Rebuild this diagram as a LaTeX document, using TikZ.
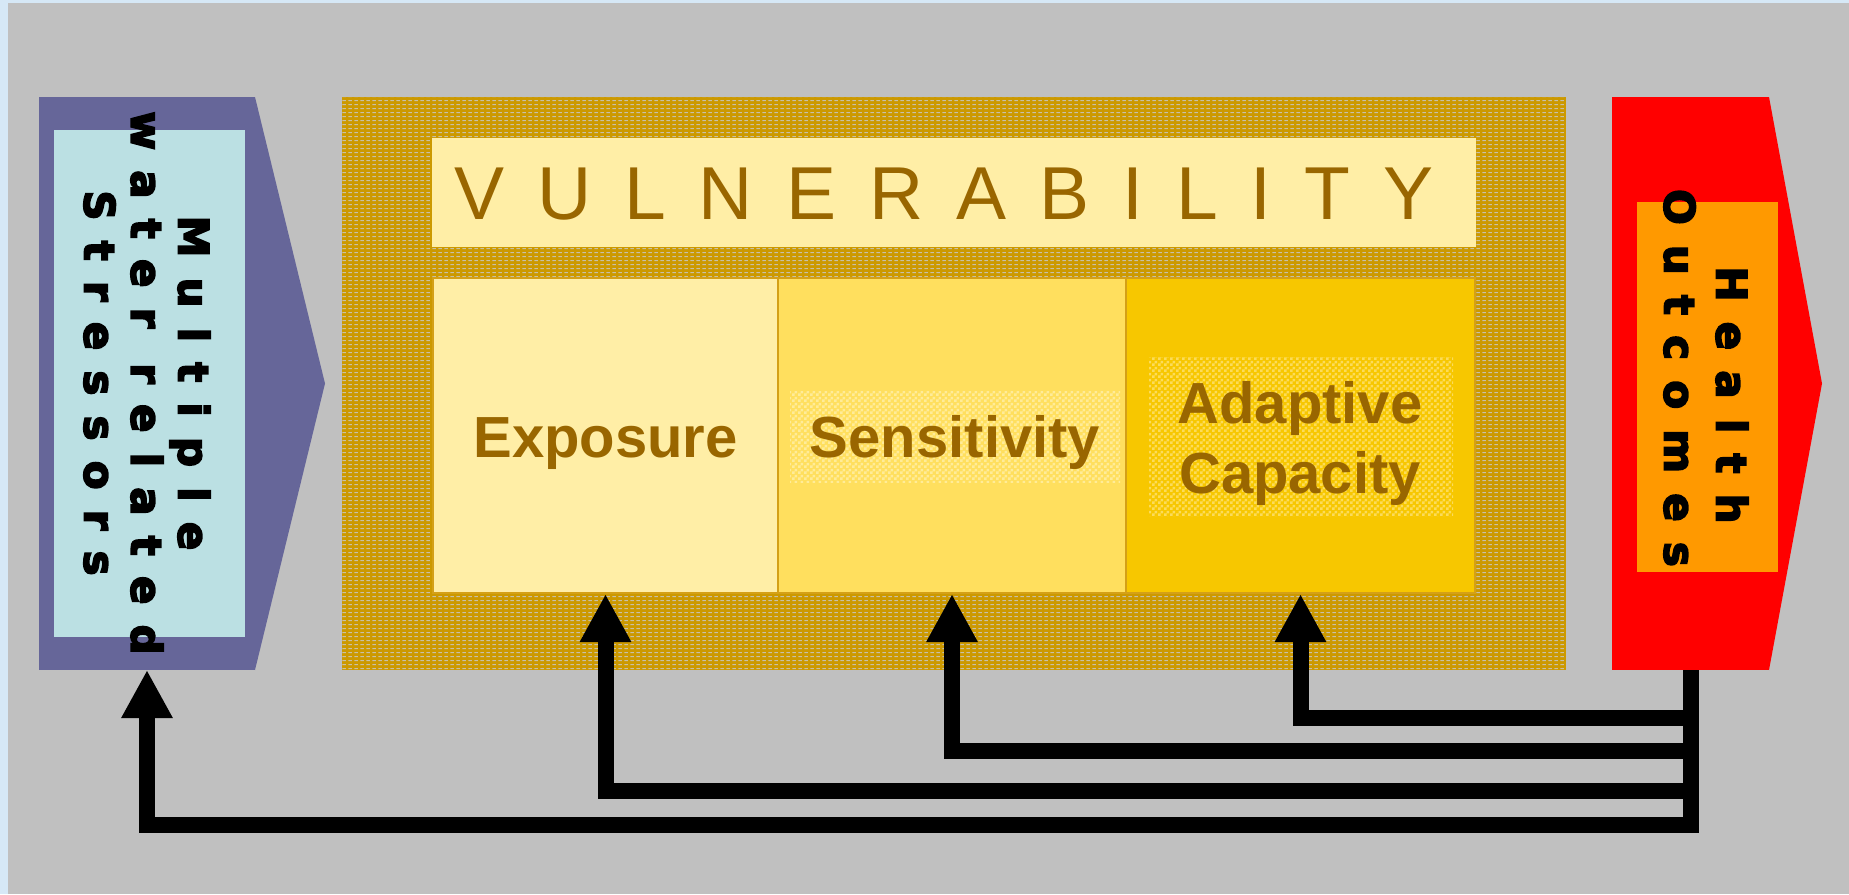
\documentclass[tikz,border=0pt]{standalone}
\usepackage{fontspec}
\setmainfont{Liberation Sans}
\newfontfamily\heavyfont[LetterSpace=48,FakeBold=4]{DejaVu Sans}
\newfontfamily\vulfont[LetterSpace=44]{Liberation Sans}
\usetikzlibrary{arrows.meta,patterns,calc}
\pgfdeclarepatternformonly{golddash}{\pgfqpoint{0pt}{0pt}}{\pgfqpoint{6pt}{4pt}}{\pgfqpoint{6pt}{4pt}}{%
  \pgfpathrectangle{\pgfqpoint{0.5pt}{1pt}}{\pgfqpoint{4pt}{1.3pt}}\pgfusepath{fill}}
\pgfdeclarepatternformonly{checker}{\pgfqpoint{0pt}{0pt}}{\pgfqpoint{6pt}{6pt}}{\pgfqpoint{6pt}{6pt}}{%
  \pgfpathrectangle{\pgfqpoint{0pt}{0pt}}{\pgfqpoint{3pt}{3pt}}%
  \pgfpathrectangle{\pgfqpoint{3pt}{3pt}}{\pgfqpoint{3pt}{3pt}}\pgfusepath{fill}}
\definecolor{bgblue}{HTML}{D6E8F6}
\definecolor{bggray}{HTML}{C0C0C0}
\definecolor{stpurple}{HTML}{666699}
\definecolor{stblue}{HTML}{BBE0E3}
\definecolor{hored}{HTML}{FF0000}
\definecolor{hoorange}{HTML}{FF9900}
\definecolor{gold}{HTML}{CC9900}
\definecolor{goldline}{HTML}{D4A017}
\definecolor{dashgray}{HTML}{C8C0A8}
\definecolor{pale}{HTML}{FFEEA6}
\definecolor{midyel}{HTML}{FFDF5E}
\definecolor{deepyel}{HTML}{F7C700}
\definecolor{senspat}{HTML}{FFEC99}
\definecolor{adappat}{HTML}{FCDC5A}
\definecolor{txtbrown}{HTML}{996600}
\tikzset{
  fb/.style={draw=black, line width=16pt, line join=miter, -{Triangle[width=48pt,length=48pt]}},
  box/.style={draw=goldline, line width=2pt, inner sep=0pt},
  plain/.style={inner sep=0pt, outer sep=0pt},
  lbl/.style={text=txtbrown, font=\fontsize{58}{70}\selectfont\bfseries, align=center, inner sep=0pt},
  vert/.style={rotate=-90, align=center, inner sep=0pt, text=black},
}
\begin{document}
\begin{tikzpicture}[x=1pt,y=-1pt]
\useasboundingbox (0,0) rectangle (1849,894);
\fill[bgblue] (0,0) rectangle (1849,894);
\fill[bggray] (8,3) rectangle (1849,894);

% left pentagon
\node[plain, fill=stpurple, minimum width=216pt, minimum height=573pt] (stress) at (147,383.5) {};
\fill[stpurple] (stress.north east) -- (325,383.5) -- (stress.south east) -- cycle;
\node[plain, fill=stblue, minimum width=191pt, minimum height=507pt] (stressin) at (149.5,383.5) {};
\node[vert, font=\heavyfont\bfseries\fontsize{42}{47}\selectfont] (stresstxt) at (147,383) {Multiple\\water related\\Stressors};

% right pentagon
\node[plain, fill=hored, minimum width=157pt, minimum height=573pt] (ho) at (1690.5,383.5) {};
\fill[hored] (ho.north east) -- (1822,383.5) -- (ho.south east) -- cycle;
\node[plain, fill=hoorange, minimum width=141pt, minimum height=370pt] (hoin) at (1707.5,387) {};
\node[vert, font=\heavyfont\bfseries\fontsize{42}{52}\selectfont] (hotxt) at (1706,395) {Health\\Outcomes\hspace*{34pt}};

% vulnerability block
\node[plain, fill=gold, minimum width=1224pt, minimum height=573pt] (vul) at (954,383.5) {};
\fill[pattern=golddash, pattern color=dashgray] (vul.north west) rectangle (vul.south east);
\node[plain, fill=pale, minimum width=1044pt, minimum height=109pt] (title) at (954,192.5) {};
\node[plain, anchor=base west, text=txtbrown, font=\vulfont\fontsize{75}{80}\selectfont] (titletxt) at (454,219) {VULNERABILITY};

\node[box, fill=pale, minimum width=345pt, minimum height=315pt] (expo) at (605.5,435.5) {};
\node[box, fill=midyel, minimum width=348pt, minimum height=315pt] (sens) at (952,435.5) {};
\node[box, fill=deepyel, minimum width=349pt, minimum height=315pt] (adapt) at (1300.5,435.5) {};

\node[plain, fill=midyel, minimum width=330pt, minimum height=91pt] (senspatch) at (955,436.5) {};
\fill[pattern=checker, pattern color=senspat] (senspatch.north west) rectangle (senspatch.south east);
\node[plain, fill=deepyel, minimum width=304pt, minimum height=159pt] (adappatch) at (1301,436.5) {};
\fill[pattern=checker, pattern color=adappat] (adappatch.north west) rectangle (adappatch.south east);

\node[lbl, anchor=base] (expotxt) at (605.5,457) {Exposure};
\node[lbl, anchor=base] (senstxt) at (955,457) {Sensitivity};
\node[lbl] (adapttxt) at (1300,443) {Adaptive\\Capacity};

% feedback arrows
\draw[fb] (ho.south) -- ++(0,48) -| (adapt.south);
\draw[fb] (ho.south) -- ++(0,81) -| (sens.south);
\draw[fb] (ho.south) -- ++(0,121) -| (expo.south);
\draw[fb] (ho.south) -- ++(0,155) -| (stress.south);
\end{tikzpicture}
\end{document}
